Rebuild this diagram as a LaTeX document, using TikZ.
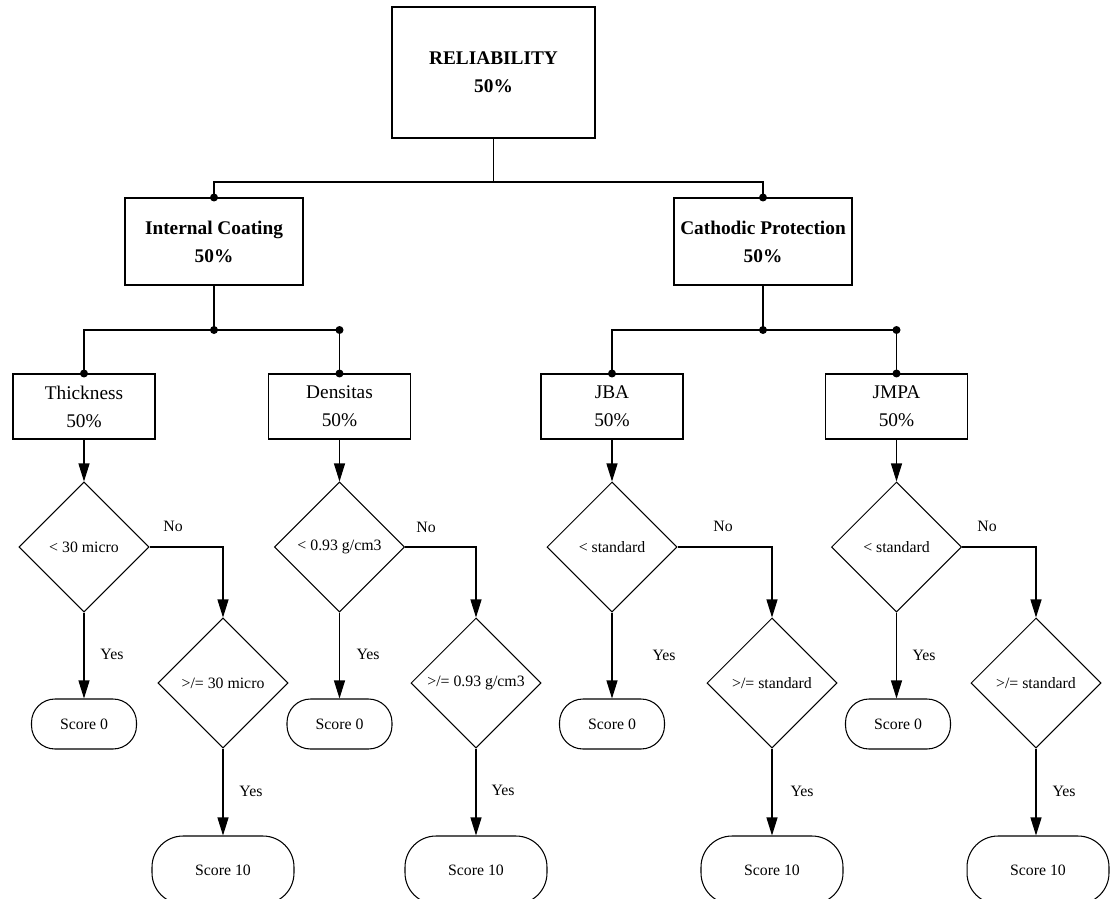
\documentclass[tikz,border=0pt]{standalone}
\usepackage{fontspec}
\setmainfont{Liberation Serif}
\usetikzlibrary{arrows.meta, shapes.geometric}

\begin{document}
\begin{tikzpicture}[
    x=0.02cm, y=-0.02cm,
    catbox/.style={draw,align=center,inner sep=0pt,
                   font=\fontsize{11}{16}\selectfont\bfseries},
    subbox/.style={draw,align=center,inner sep=0pt,minimum width=2.84cm,minimum height=1.3cm,
                   font=\fontsize{11}{16}\selectfont},
    cond/.style={draw,diamond,aspect=1,inner sep=1pt,minimum width=2.6cm,minimum height=2.6cm,
                 font=\fontsize{9}{11}\selectfont},
    zero/.style={draw,rounded corners=0.47cm,minimum width=2.1cm,minimum height=1cm,
                 font=\fontsize{9}{11}\selectfont},
    full/.style={draw,rounded corners=0.62cm,minimum width=2.84cm,minimum height=1.36cm,
                 font=\fontsize{9}{11}\selectfont},
    lbl/.style={font=\fontsize{9}{11}\selectfont},
    arr/.style={-{Triangle[length=0.36cm,width=0.22cm]}},
    line width=0.6pt
]
  \useasboundingbox (0,0) rectangle (1112,899);

  % Top level
  \node[catbox,minimum width=4.06cm,minimum height=2.62cm] (rel) at (493.5,72.5) {RELIABILITY\\50\%};
  \node[catbox,minimum width=3.56cm,minimum height=1.74cm] (ic) at (214,241.5) {Internal Coating\\50\%};
  \node[catbox,minimum width=3.56cm,minimum height=1.74cm] (cp) at (763,241.5) {Cathodic Protection\\50\%};

  % Parameters
  \node[subbox] (thk) at (84,406.5) {Thickness\\50\%};
  \node[subbox] (den) at (339.5,406.5) {Densitas\\50\%};
  \node[subbox] (jba) at (612,406.5) {JBA\\50\%};
  \node[subbox] (jmpa) at (896.5,406.5) {JMPA\\50\%};

  % Buses
  \coordinate (bus1) at (493.5,182);
  \coordinate (bus2) at (214,330);
  \coordinate (bus3) at (763,330);
  \draw (rel.south) -- (bus1);
  \draw (ic.north) |- (bus1) -| (cp.north);
  \draw (ic.south) -- (bus2);
  \draw (thk.north) |- (bus2) -| (den.north);
  \draw (cp.south) -- (bus3);
  \draw (jba.north) |- (bus3) -| (jmpa.north);
  \foreach \p in {(ic.north),(cp.north),(bus2),(den.north |- bus2),(thk.north),(den.north),
                  (bus3),(jmpa.north |- bus3),(jba.north),(jmpa.north)}
    \fill \p circle[radius=0.08cm];

  % Thickness
  \node[cond] (t1) at (84,547) {< 30 micro};
  \node[cond] (t2) at (223,683) {>/= 30 micro};
  \node[zero] (t0) at (84,724) {Score 0};
  \node[full] (t10) at (223,870) {Score 10};
  \draw[arr] (thk.south) -- (t1.north);
  \draw[arr] (t1.south) -- (t0.north);
  \draw[arr] (t1.east) -| (t2.north);
  \draw[arr] (t2.south) -- (t10.north);
  \node[lbl] (tno) at (173,526) {No};
  \node[lbl] (tyes) at (112,654) {Yes};
  \node[lbl] (tyes2) at (251,791) {Yes};

  % Densitas
  \node[cond] (n1) at (339.5,547) {< 0.93 g/cm3};
  \node[cond] (n2) at (476,683) {>/= 0.93 g/cm3};
  \node[zero] (n0) at (339.5,724) {Score 0};
  \node[full] (n10) at (476,870) {Score 10};
  \draw[arr] (den.south) -- (n1.north);
  \draw[arr] (n1.south) -- (n0.north);
  \draw[arr] (n1.east) -| (n2.north);
  \draw[arr] (n2.south) -- (n10.north);
  \node[lbl] (nno) at (426,527) {No};
  \node[lbl] (nyes) at (368,654) {Yes};
  \node[lbl] (nyes2) at (503,790) {Yes};

  % JBA
  \node[cond] (b1) at (612,547) {< standard};
  \node[cond] (b2) at (772,683) {>/= standard};
  \node[zero] (b0) at (612,724) {Score 0};
  \node[full] (b10) at (772,870) {Score 10};
  \draw[arr] (jba.south) -- (b1.north);
  \draw[arr] (b1.south) -- (b0.north);
  \draw[arr] (b1.east) -| (b2.north);
  \draw[arr] (b2.south) -- (b10.north);
  \node[lbl] (bno) at (723,526) {No};
  \node[lbl] (byes) at (664,655) {Yes};
  \node[lbl] (byes2) at (802,791) {Yes};

  % JMPA
  \node[cond] (m1) at (896.5,547) {< standard};
  \node[cond] (m2) at (1036,683) {>/= standard};
  \node[zero] (m0) at (898,724) {Score 0};
  \node[full] (m10) at (1038,870) {Score 10};
  \draw[arr] (jmpa.south) -- (m1.north);
  \draw[arr] (m1.south) -- (m1.south |- m0.north);
  \draw[arr] (m1.east) -| (m2.north);
  \draw[arr] (m2.south) -- (m2.south |- m10.north);
  \node[lbl] (mno) at (987,526) {No};
  \node[lbl] (myes) at (924,655) {Yes};
  \node[lbl] (myes2) at (1064,791) {Yes};
\end{tikzpicture}
\end{document}
